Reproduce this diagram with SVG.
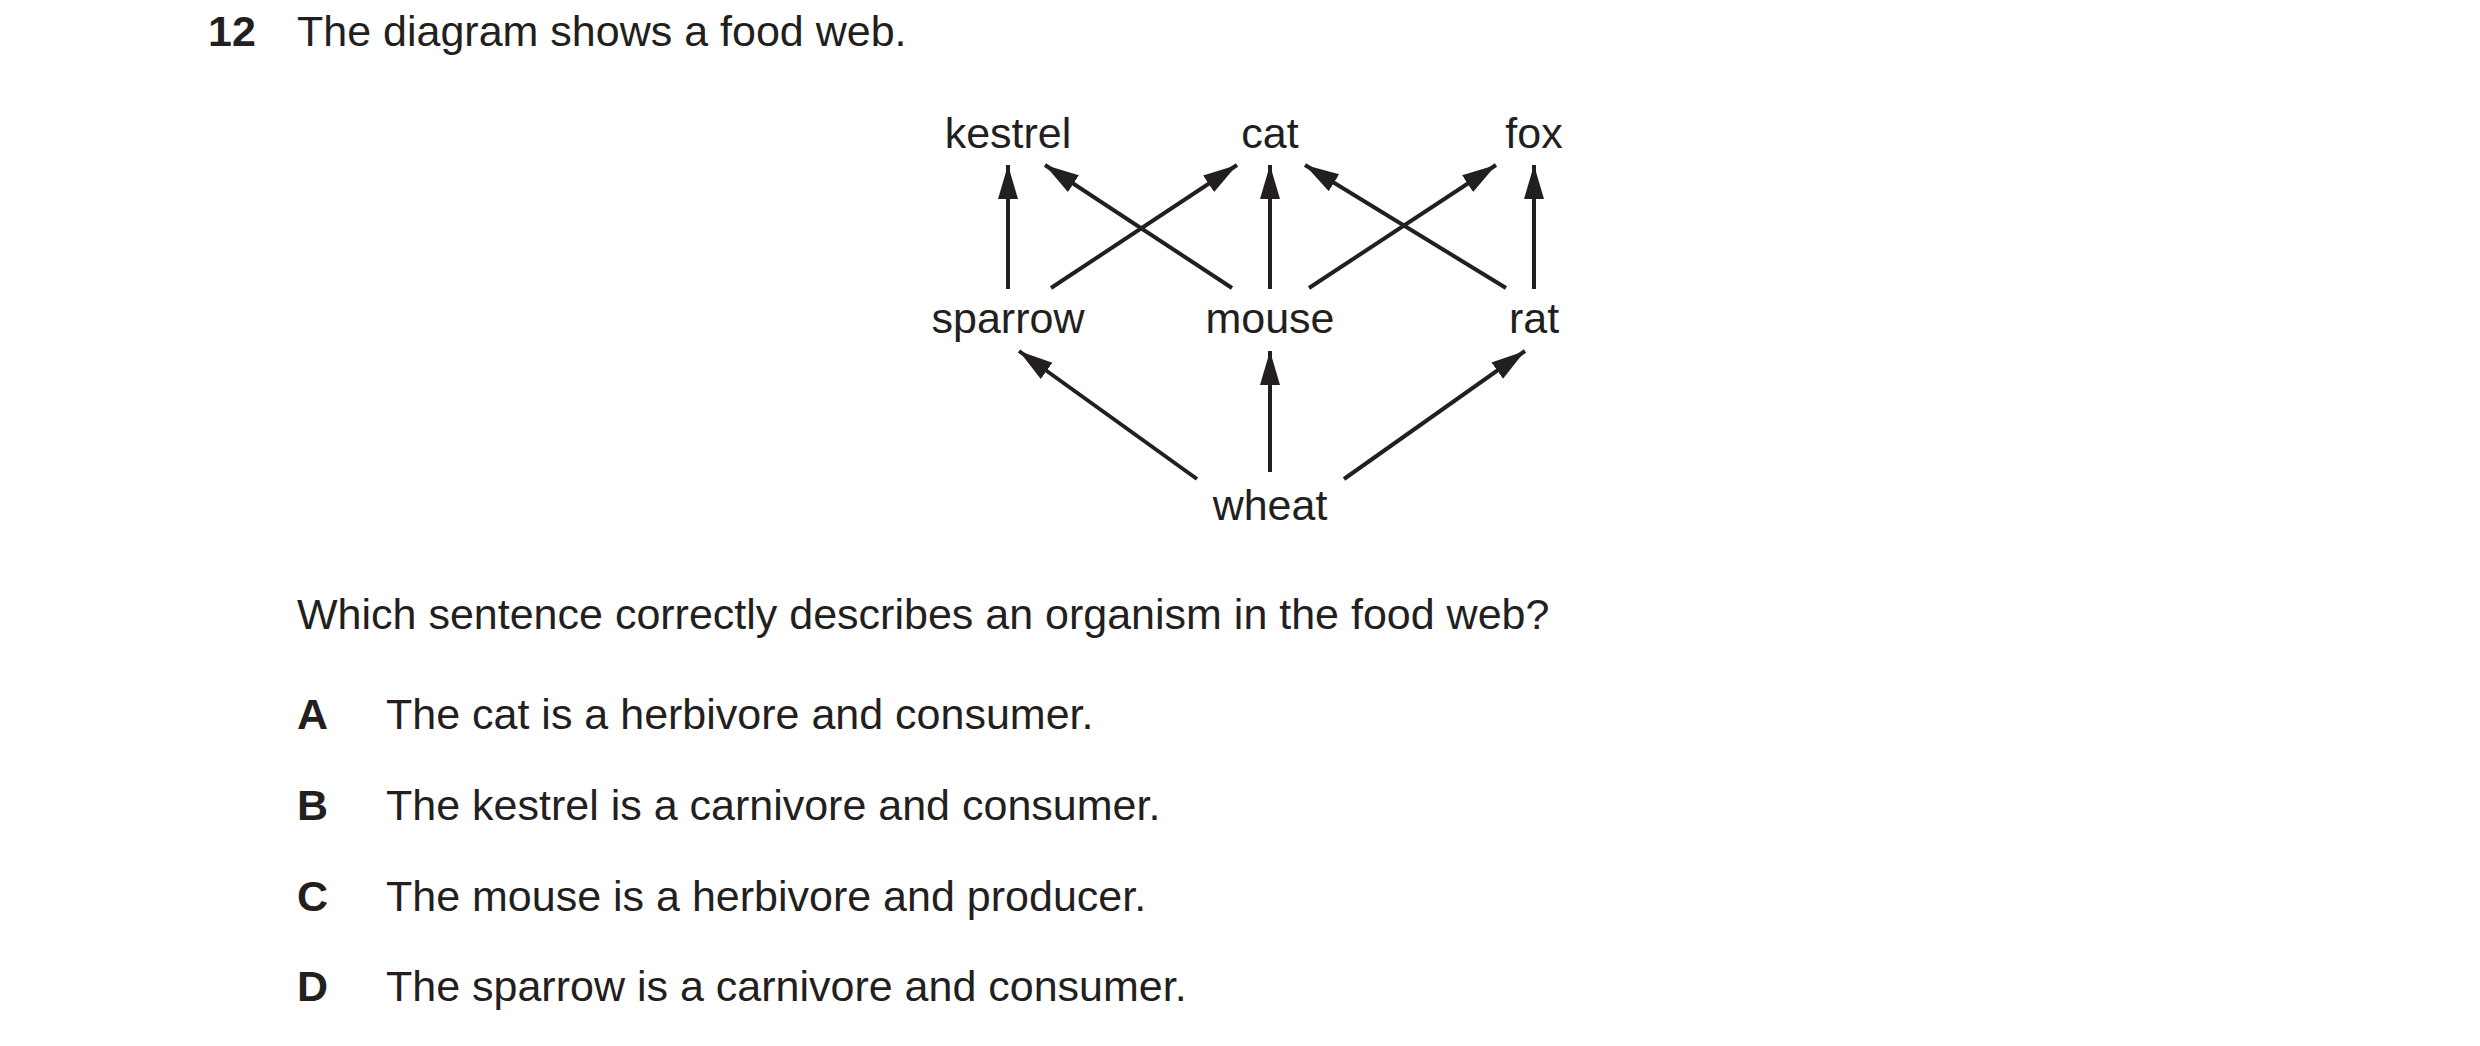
<svg xmlns="http://www.w3.org/2000/svg" width="2480" height="1046" viewBox="0 0 2480 1046">
<style>
text{font-family:"Liberation Sans",Arial,sans-serif;font-size:43px;fill:#231f20}
.b{font-weight:bold}
.n{text-anchor:middle}
.c line{stroke:#231f20;stroke-width:4;marker-end:url(#ah)}
</style>
<defs>
<marker id="ah" markerUnits="userSpaceOnUse" markerWidth="36" markerHeight="22" refX="34" refY="10" orient="auto">
<path d="M0,0 L34,10 L0,20 z" fill="#231f20"/>
</marker>
</defs>
<rect width="2480" height="1046" fill="#fff"/>
<text class="b" x="208" y="46">12</text>
<text x="297" y="46">The diagram shows a food web.</text>
<g id="kestrel"><text class="n" x="1008" y="148">kestrel</text></g>
<g id="cat"><text class="n" x="1270" y="148">cat</text></g>
<g id="fox"><text class="n" x="1534" y="148">fox</text></g>
<g id="sparrow"><text class="n" x="1008" y="333">sparrow</text></g>
<g id="mouse"><text class="n" x="1270" y="333">mouse</text></g>
<g id="rat"><text class="n" x="1534" y="333">rat</text></g>
<g id="wheat"><text class="n" x="1270" y="520">wheat</text></g>
<g id="connectors" class="c">
<line x1="1008" y1="289" x2="1008" y2="165"/>
<line x1="1051" y1="288" x2="1237" y2="165"/>
<line x1="1232" y1="288" x2="1045" y2="165"/>
<line x1="1270" y1="289" x2="1270" y2="165"/>
<line x1="1309" y1="288" x2="1496" y2="165"/>
<line x1="1506" y1="288" x2="1305" y2="165"/>
<line x1="1534" y1="289" x2="1534" y2="165"/>
<line x1="1197" y1="479" x2="1019" y2="351"/>
<line x1="1270" y1="472" x2="1270" y2="351"/>
<line x1="1344" y1="479" x2="1525" y2="351"/>
</g>
<text x="297" y="629">Which sentence correctly describes an organism in the food web?</text>
<text class="b" x="297" y="729">A</text><text x="386" y="729">The cat is a herbivore and consumer.</text>
<text class="b" x="297" y="820">B</text><text x="386" y="820">The kestrel is a carnivore and consumer.</text>
<text class="b" x="297" y="911">C</text><text x="386" y="911">The mouse is a herbivore and producer.</text>
<text class="b" x="297" y="1001">D</text><text x="386" y="1001">The sparrow is a carnivore and consumer.</text>
</svg>
